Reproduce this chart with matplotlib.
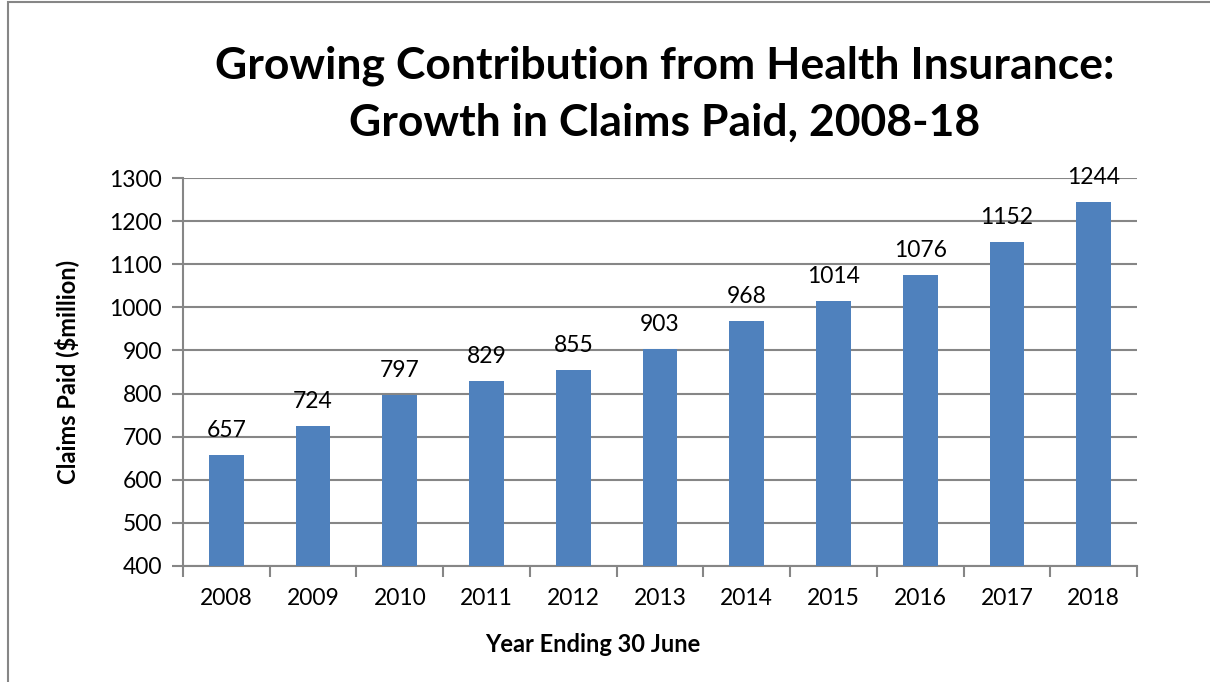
import matplotlib
matplotlib.use("Agg")
from matplotlib import pyplot as plt
from matplotlib.patches import Rectangle
import numpy as np

# Chart data
years = ['2008', '2009', '2010', '2011', '2012', '2013',
         '2014', '2015', '2016', '2017', '2018']
claims = [657, 724, 797, 829, 855, 903, 968, 1014, 1076, 1152, 1244]
y_ticks = [400, 500, 600, 700, 800, 900, 1000, 1100, 1200, 1300]

plt.rcParams['font.family'] = ['Lato', 'DejaVu Sans']

fig = plt.figure(figsize=(12.1, 6.82), dpi=100)
ax = fig.add_axes([0.1512, 0.1701, 0.7885, 0.5689])

x = np.arange(len(years))
ax.bar(x, claims, width=0.4, color='#4F81BD', zorder=3)

# Value labels above each bar
for xi, v in zip(x, claims):
    ax.annotate(str(v), (xi, v), xytext=(0, 10), textcoords='offset points',
                ha='center', va='bottom', fontsize=16.5, zorder=4)

ax.set_xlim(-0.5, len(years) - 0.5)
ax.set_ylim(400, 1300)
ax.set_yticks(y_ticks)
ax.set_yticklabels([str(t) for t in y_ticks])
ax.set_xticks(x)
ax.set_xticklabels(years)
ax.set_xticks(np.arange(-0.5, len(years)), minor=True)

# Gridlines and axis styling
ax.yaxis.grid(True, color='#868686', linewidth=1.5, zorder=0)
for s in ['top', 'right']:
    ax.spines[s].set_visible(False)
for s in ['left', 'bottom']:
    ax.spines[s].set_color('#868686')
    ax.spines[s].set_linewidth(1.5)
ax.tick_params(axis='y', length=8, width=1.5, color='#868686',
               labelsize=16.5, pad=7)
ax.tick_params(axis='x', which='major', length=0, labelsize=16.5, pad=16)
ax.tick_params(axis='x', which='minor', length=8, width=1.5,
               color='#868686')

ax.set_xlabel('Year Ending 30 June', fontsize=17, fontweight='bold',
              labelpad=17)
ax.xaxis.label.set_x(0.429)
ax.set_ylabel('Claims Paid ($million)', fontsize=17, fontweight='bold',
              labelpad=22)

fig.text(0.549, 0.862, 'Growing Contribution from Health Insurance:\n'
         'Growth in Claims Paid, 2008-18', ha='center', va='center',
         fontsize=32, fontweight='bold', linespacing=1.5)

# Outer chart border
fig.patches.append(Rectangle((8 / 1210, -0.01), 1.01, 1 - 2 / 682 + 0.01,
                             transform=fig.transFigure, fill=False,
                             edgecolor='#868686', linewidth=1.5))

fig.savefig('out.png', dpi=100)
